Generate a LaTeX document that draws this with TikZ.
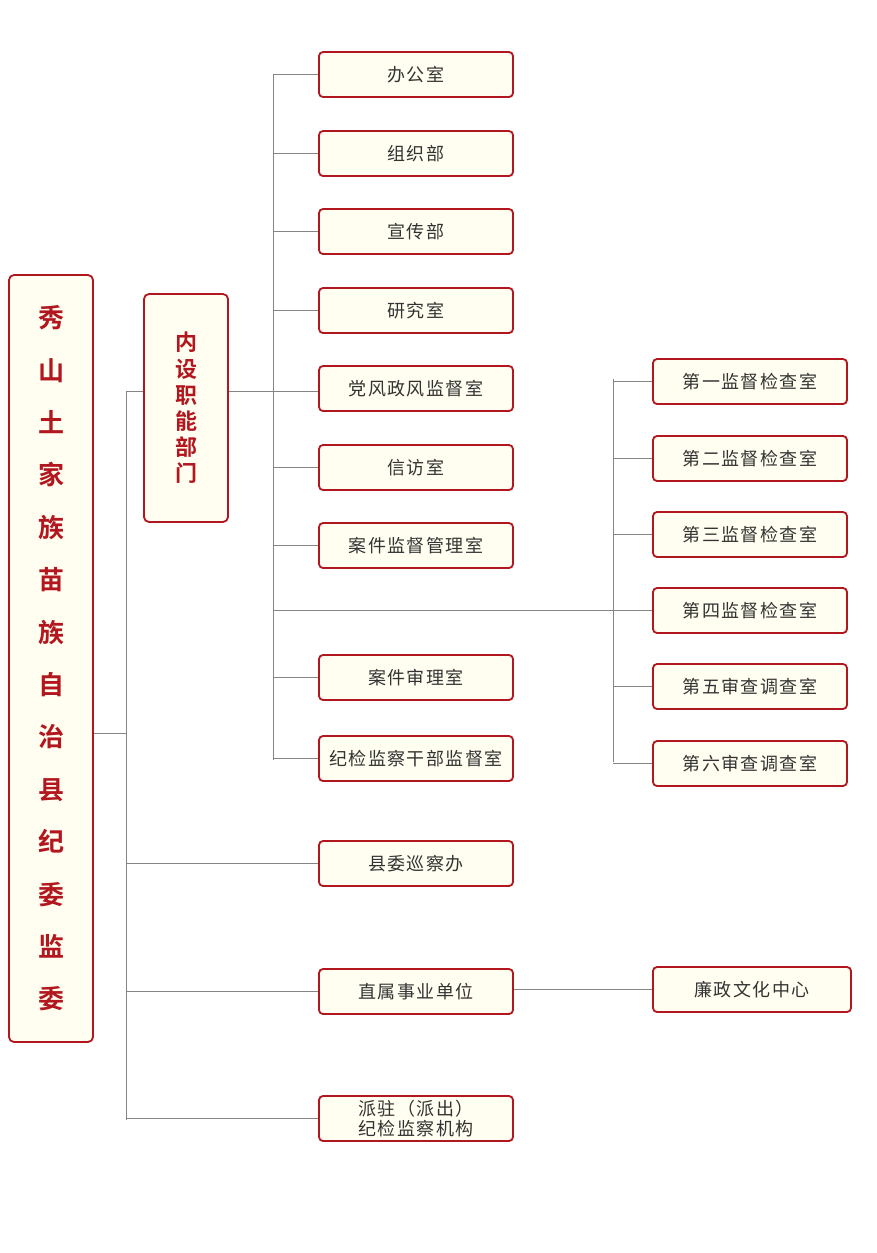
\documentclass[tikz,border=0pt]{standalone}
\usepackage{fontspec}
\newfontfamily\cjk[LetterSpace=8]{Noto Sans CJK SC}
\newfontfamily\cjkb{Noto Sans CJK SC Bold}
\usetikzlibrary{positioning}
\definecolor{boxred}{HTML}{B2161E}
\definecolor{boxfill}{HTML}{FFFEF0}
\definecolor{linegray}{HTML}{858585}
\definecolor{textgray}{HTML}{333333}

\begin{document}
\begin{tikzpicture}[x=1pt,y=-1pt,
    unit/.style={draw=boxred,line width=1.8pt,fill=boxfill,rounded corners=4pt,
        minimum width=194pt,minimum height=45pt,inner sep=0pt,text=textgray,
        font=\cjk\fontsize{18}{20}\selectfont},
    title/.style={draw=boxred,line width=1.8pt,fill=boxfill,rounded corners=5pt,
        inner sep=0pt,text=boxred,align=center},
    link/.style={draw=linegray,line width=0.9pt}]
    \useasboundingbox (0,0) rectangle (876,1253);
    \node[title,minimum width=84pt,minimum height=767pt,font=\cjkb\fontsize{26}{52.4}\selectfont] (xs) at (51,658.5)
        {秀\\山\\土\\家\\族\\苗\\族\\自\\治\\县\\纪\\委\\监\\委};
    \node[title,minimum width=84pt,minimum height=228pt,font=\cjkb\fontsize{22}{26.2}\selectfont] (nszn) at (186,408)
        {内\\设\\职\\能\\部\\门};
    % middle column
    \node[unit] (bgs) at (416,74.5) {办公室};
    \node[unit] (zzb) at (416,153.5) {组织部};
    \node[unit] (xcb) at (416,231.5) {宣传部};
    \node[unit] (yjs) at (416,310.5) {研究室};
    \node[unit] (dfzf) at (416,388.5) {党风政风监督室};
    \node[unit] (xfs) at (416,467.5) {信访室};
    \node[unit] (ajjd) at (416,545.5) {案件监督管理室};
    \node[unit] (ajsl) at (416,677.5) {案件审理室};
    \node[unit] (gbjd) at (416,758.5) {纪检监察干部监督室};
    \node[unit] (xcbg) at (416,863.5) {县委巡察办};
    \node[unit] (zssy) at (416,991.5) {直属事业单位};
    \node[unit,align=left] (pz) at (416,1118.5) {派驻（派出）\\纪检监察机构};
    % right column
    \node[unit] (jc1) at (750,381.5) {第一监督检查室};
    \node[unit] (jc2) at (750,458.5) {第二监督检查室};
    \node[unit] (jc3) at (750,534.5) {第三监督检查室};
    \node[unit] (jc4) at (750,610.5) {第四监督检查室};
    \node[unit] (sd5) at (750,686.5) {第五审查调查室};
    \node[unit] (sd6) at (750,763.5) {第六审查调查室};
    \node[unit,minimum width=198pt] (lzwh) at (752,989.5) {廉政文化中心};

    \coordinate (ja) at (126,391);
    \coordinate (jb) at (126,1120);
    \coordinate (jm) at (126,733);
    \coordinate (jc) at (273,74.5);
    \coordinate (jd) at (273,760);
    \coordinate (je) at (613,379);
    \coordinate (jf) at (613,762);
    \draw[link] (ja) -- (jb);
    \draw[link] (xs.east |- jm) -- (jm);
    \draw[link] (ja) -- (nszn.west |- ja);
    \draw[link] (xcbg.west -| ja) -- (xcbg.west);
    \draw[link] (zssy.west -| ja) -- (zssy.west);
    \draw[link] (pz.west -| ja) -- (pz.west);
    \draw[link] (jc) -- (jd);
    \draw[link] (nszn.east |- ja) -- (dfzf.west |- ja);
    \foreach \n in {bgs,zzb,xcb,yjs,xfs,ajjd,ajsl,gbjd}
        \draw[link] (\n.west -| jc) -- (\n.west);
    \draw[link] (je) -- (jf);
    \draw[link] (jc4.west -| jc) -- (jc4.west);
    \foreach \n in {jc1,jc2,jc3,sd5,sd6}
        \draw[link] (\n.west -| je) -- (\n.west);
    \draw[link] (zssy.east |- lzwh.west) -- (lzwh.west);
\end{tikzpicture}
\end{document}
